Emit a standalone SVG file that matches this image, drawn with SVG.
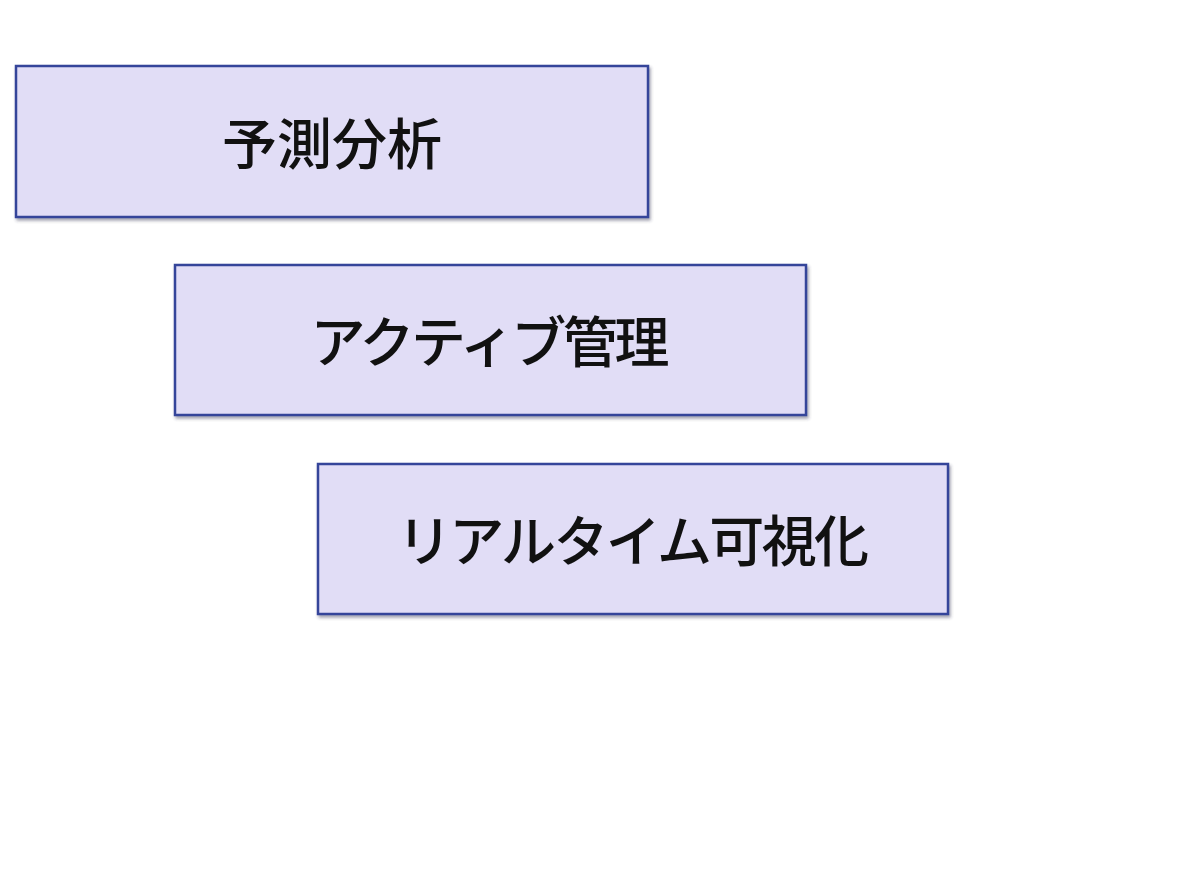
<svg xmlns="http://www.w3.org/2000/svg" width="1193" height="896" viewBox="0 0 1193 896">
<defs>
<filter id="sh" x="-5%" y="-10%" width="110%" height="125%">
<feDropShadow dx="1.5" dy="2.5" stdDeviation="1.5" flood-color="#303050" flood-opacity="0.45"/>
</filter>
</defs>
<style>
.box{fill:#e1ddf6;stroke:#34449a;stroke-width:2.5;filter:url(#sh)}
.lbl{font-family:"Noto Sans CJK JP","Noto Sans CJK SC",sans-serif;font-size:55px;font-weight:500;fill:#111;text-anchor:middle}
</style>
<rect width="1193" height="896" fill="#ffffff"/>
<g id="connectors"></g>
<g id="node1">
<rect class="box" x="16" y="66" width="632" height="151"/>
<text class="lbl" x="332" y="164">予測分析</text>
</g>
<g id="node2">
<rect class="box" x="175" y="265" width="631" height="150"/>
<text class="lbl" x="490" y="362" textLength="359" lengthAdjust="spacing">アクティブ管理</text>
</g>
<g id="node3">
<rect class="box" x="318" y="464" width="630" height="150"/>
<text class="lbl" x="633" y="561" textLength="472" lengthAdjust="spacing">リアルタイム可視化</text>
</g>
</svg>
